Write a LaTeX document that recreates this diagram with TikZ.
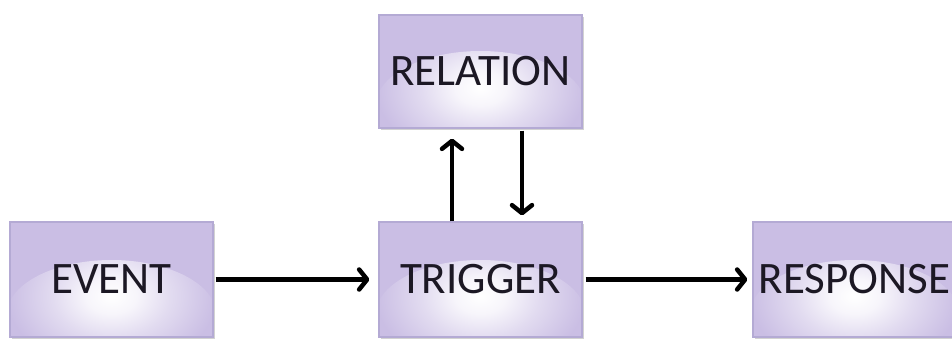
\documentclass[tikz,border=0pt]{standalone}
\usepackage{fontspec}
\setmainfont{Carlito}
\usetikzlibrary{arrows.meta,shadows}
\definecolor{lav}{RGB}{202,190,228}
\definecolor{lavborder}{RGB}{180,170,212}
\definecolor{txt}{RGB}{28,24,36}
\pgfdeclareradialshading{glow}{\pgfpoint{0bp}{0bp}}{%
  color(0bp)=(white); color(6bp)=(white!85!lav); color(14bp)=(white!45!lav);
  color(22bp)=(white!12!lav); color(25bp)=(lav); color(50bp)=(lav)}
\tikzset{
  box/.style={draw=lavborder, line width=1.2pt, fill=lav,
    minimum width=203pt, minimum height=115pt, inner sep=0pt,
    font=\fontsize{45}{45}\selectfont, text=txt,
    drop shadow={shadow xshift=1.5pt, shadow yshift=-1.5pt, opacity=0.35, fill=gray},
    path picture={\shade[shading=glow]
      ([yshift=22pt]path picture bounding box.south) ellipse (105pt and 55pt);}},
  conn/.style={line width=4.5pt, -{Straight Barb[length=8pt,width=20pt,line width=4.5pt,round]}}
}
\begin{document}
\begin{tikzpicture}[x=1pt,y=-1pt]
\useasboundingbox (0,0) rectangle (952,340);
\fill[white] (0,0) rectangle (952,340);
\node[box] (event) at (111.5,279.5) {EVENT};
\node[box] (trigger) at (480.5,279.5) {TRIGGER};
\node[box, minimum height=113pt] (relation) at (480.5,71.5) {RELATION};
\node[box] (response) at (854.5,279.5) {RESPONSE};
\draw[conn, shorten <=2pt, shorten >=9pt] (event.east) -- (trigger.west);
\draw[conn, shorten <=3pt, shorten >=5pt] (trigger.east) -- (response.west);
\draw[conn, shorten >=10pt] ([xshift=-28.5pt]trigger.north) -- ([xshift=-28.5pt]relation.south);
\draw[conn, shorten <=2pt, shorten >=6pt] ([xshift=41.5pt]relation.south) -- ([xshift=41.5pt]trigger.north);
\end{tikzpicture}
\end{document}
